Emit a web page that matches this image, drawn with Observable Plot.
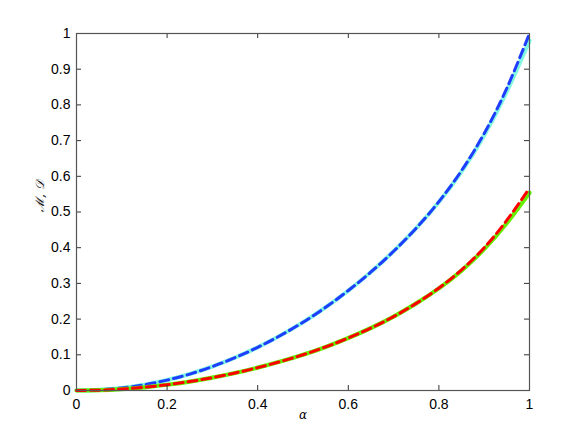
<!DOCTYPE html>
<html>
<head>
<meta charset="utf-8">
<script src="https://cdn.jsdelivr.net/npm/d3@7"></script>
<script src="https://cdn.jsdelivr.net/npm/@observablehq/plot@0.6"></script>
<style>
  html, body { margin: 0; padding: 0; background: #fff; }
</style>
</head>
<body>
<div id="chart"></div>
<script>
const alpha = [0, 0.05, 0.1, 0.15, 0.2, 0.25, 0.3, 0.35, 0.4, 0.45, 0.5, 0.55, 0.6, 0.65, 0.7, 0.75, 0.8, 0.85, 0.9, 0.95, 1.0];
const upperDashed = [0, 0.002, 0.007, 0.016, 0.029, 0.046, 0.067, 0.092, 0.121, 0.154, 0.191, 0.233, 0.28, 0.332, 0.39, 0.455, 0.529, 0.616, 0.72, 0.847, 1.0];
const upperSolid  = [0, 0.002, 0.007, 0.016, 0.029, 0.046, 0.067, 0.092, 0.121, 0.154, 0.191, 0.233, 0.28, 0.332, 0.39, 0.455, 0.528, 0.613, 0.715, 0.838, 0.98];
const lowerDashed = [0, 0.001, 0.004, 0.009, 0.016, 0.025, 0.036, 0.049, 0.064, 0.081, 0.1, 0.122, 0.147, 0.175, 0.207, 0.244, 0.287, 0.338, 0.4, 0.477, 0.567];
const lowerSolid  = [0, 0.001, 0.004, 0.009, 0.016, 0.025, 0.036, 0.049, 0.064, 0.081, 0.1, 0.122, 0.147, 0.175, 0.207, 0.244, 0.286, 0.336, 0.396, 0.469, 0.554];
const xTicks = [0, 0.2, 0.4, 0.6, 0.8, 1];
const yTicks = [0, 0.1, 0.2, 0.3, 0.4, 0.5, 0.6, 0.7, 0.8, 0.9, 1];

const W = 584, H = 439, mL = 76, mR = 55, mT = 33, mB = 49;
const pw = W - mL - mR, ph = H - mT - mB;

const mk = (ys) => alpha.map((a, i) => ({x: a, y: ys[i]}));

const chart = Plot.plot({
  width: W, height: H,
  marginLeft: mL, marginRight: mR, marginTop: mT, marginBottom: mB,
  style: {fontFamily: "'Liberation Sans', Arial, sans-serif", fontSize: "14px", background: "#fff", color: "#000"},
  x: {domain: [0, 1]},
  y: {domain: [0, 1]},
  marks: [
    Plot.line(mk(upperSolid), {x: "x", y: "y", stroke: "#80f8e0", strokeWidth: 4.2, curve: "natural"}),
    Plot.line(mk(upperDashed), {x: "x", y: "y", stroke: "#1f3cff", strokeWidth: 3, strokeDasharray: "9,5", curve: "natural"}),
    Plot.line(mk(lowerSolid), {x: "x", y: "y", stroke: "#66ee00", strokeWidth: 4.2, curve: "natural"}),
    Plot.line(mk(lowerDashed), {x: "x", y: "y", stroke: "#ff0000", strokeWidth: 3, strokeDasharray: "9,5", curve: "natural"}),
    Plot.tickX(xTicks, {x: d => d, stroke: "#333", insetTop: ph - 5}),
    Plot.tickX(xTicks, {x: d => d, stroke: "#333", insetBottom: ph - 5}),
    Plot.tickY(yTicks, {y: d => d, stroke: "#333", insetRight: pw - 5}),
    Plot.tickY(yTicks, {y: d => d, stroke: "#333", insetLeft: pw - 5}),
    Plot.frame({stroke: "#555", strokeWidth: 1.2}),
    Plot.axisX({ticks: xTicks, tickSize: 0, tickPadding: 9, tickFormat: d => String(d), label: null, fontSize: 14}),
    Plot.axisY({ticks: yTicks, tickSize: 0, tickPadding: 6, tickFormat: d => String(d), label: null, fontSize: 14}),
    Plot.text(["α"], {frameAnchor: "bottom", dy: 28, fontFamily: "'DejaVu Serif', serif", fontStyle: "italic", fontSize: 12}),
    Plot.text(["ℳ, 𝒟"], {frameAnchor: "left", dx: -36, rotate: -90, fontFamily: "'DejaVu Serif', serif", fontStyle: "italic", fontSize: 12})
  ]
});
document.getElementById("chart").appendChild(chart);
</script>
</body>
</html>
